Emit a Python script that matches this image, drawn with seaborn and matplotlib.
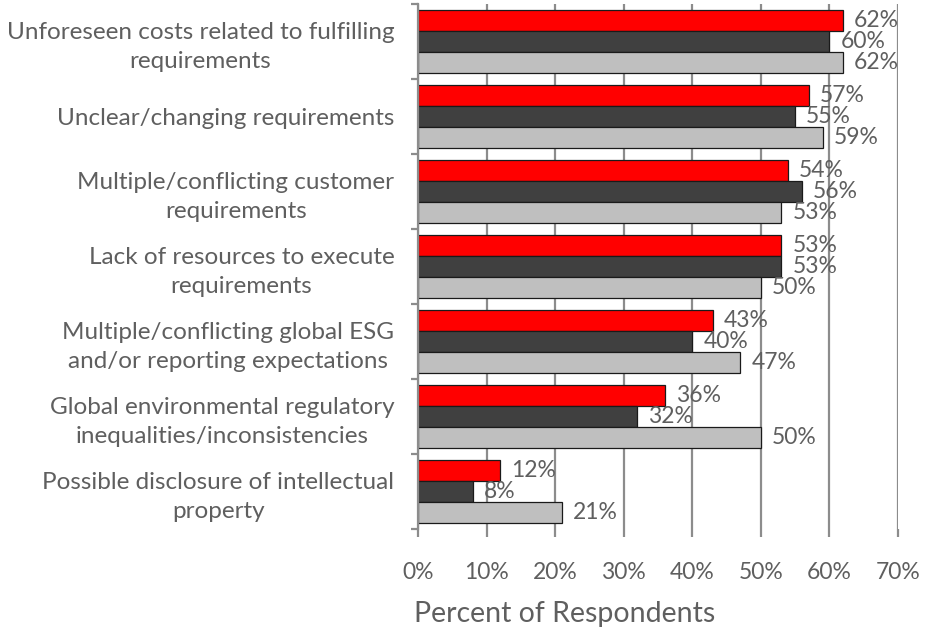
import matplotlib
matplotlib.use("Agg")
import matplotlib.pyplot as plt
import seaborn as sns
import pandas as pd
import numpy as np

categories = [
    "Unforeseen costs related to fulfilling\nrequirements",
    "Unclear/changing requirements",
    "Multiple/conflicting customer\nrequirements",
    "Lack of resources to execute\nrequirements",
    "Multiple/conflicting global ESG\nand/or reporting expectations",
    "Global environmental regulatory\ninequalities/inconsistencies",
    "Possible disclosure of intellectual\nproperty",
]
series_names = ["series_1", "series_2", "series_3"]
series_1 = [62, 57, 54, 53, 43, 36, 12]
series_2 = [60, 55, 56, 53, 40, 32, 8]
series_3 = [62, 59, 53, 50, 47, 50, 21]
x_ticks = [0, 10, 20, 30, 40, 50, 60, 70]

colors = ["#FF0000", "#404040", "#BFBFBF"]
text_color = "#5F5F5F"
grid_color = "#8C8C8C"

df = pd.DataFrame({
    "category": categories * 3,
    "series": np.repeat(series_names, len(categories)),
    "value": series_1 + series_2 + series_3,
})

sns.set_theme(style="white")
plt.rcParams["font.family"] = ["Lato", "DejaVu Sans"]
plt.rcParams["font.weight"] = "normal"

fig = plt.figure(figsize=(9.33, 6.38), dpi=100)
ax = fig.add_axes([0.448, 0.171, 0.5145, 0.823])

sns.barplot(data=df, y="category", x="value", hue="series", order=categories,
            hue_order=series_names, palette=colors, orient="h", width=0.84,
            edgecolor="#1a1a1a", linewidth=0.9, saturation=1, legend=False, ax=ax)

ax.set_xlim(0, 70)
ax.set_ylim(len(categories) - 0.5, -0.5)
ax.set_xticks(x_ticks)
ax.set_xticklabels([f"{t}%" for t in x_ticks])
ax.xaxis.grid(True, color=grid_color, linewidth=1.6)
ax.set_axisbelow(True)

for s in ["top", "right", "bottom"]:
    ax.spines[s].set_visible(False)
ax.spines["left"].set_color(grid_color)
ax.spines["left"].set_linewidth(1.6)

ax.tick_params(axis="x", length=6, width=1.6, color=grid_color, pad=18,
               labelsize=16.5, labelcolor=text_color, bottom=True)
ax.tick_params(axis="y", length=0, pad=17, labelsize=17.5, labelcolor=text_color)
ax.set_yticks(np.arange(-0.5, len(categories) + 0.5, 1.0), minor=True)
ax.tick_params(axis="y", which="minor", length=5, width=1.6, color=grid_color, left=True)
for lbl in ax.get_yticklabels():
    lbl.set_multialignment("center")
    lbl.set_linespacing(1.45)

ax.set_ylabel("")
ax.set_xlabel("Percent of Respondents", fontsize=20.5, color=text_color, labelpad=13)
ax.xaxis.label.set_x(0.306)

# value labels just past each bar end
for container in ax.containers:
    for bar in container:
        w = bar.get_width()
        y = bar.get_y() + bar.get_height() / 2
        ax.text(w + 1.6, y, f"{w:.0f}%", va="center", ha="left",
                fontsize=16.5, color=text_color)

fig.savefig("out.png", dpi=100)
